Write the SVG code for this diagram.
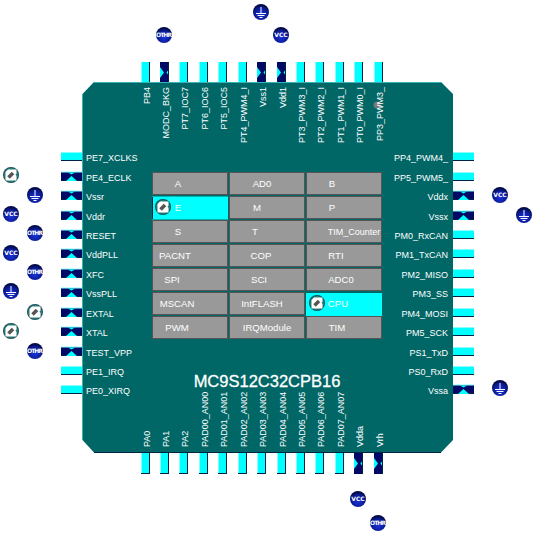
<svg xmlns="http://www.w3.org/2000/svg" xmlns:xlink="http://www.w3.org/1999/xlink" width="535" height="535" viewBox="0 0 535 535">
<style>
text{font-family:"Liberation Sans",Arial,sans-serif;fill:#fff;font-size:9px}
.e{text-anchor:end}.m{text-anchor:middle;font-size:9.600px}
.ic{font-family:"DejaVu Sans",sans-serif;font-size:6px;font-weight:bold;text-anchor:middle}
.b{fill:#999;stroke:#555;stroke-width:1}
</style>
<defs>
<radialGradient id="nv" cx="0.5" cy="0.65" r="0.6"><stop offset="0" stop-color="#1a33dd"/><stop offset="0.7" stop-color="#0a1a90"/><stop offset="1" stop-color="#000840"/></radialGradient>
<radialGradient id="tl" cx="0.5" cy="0.5" r="0.55"><stop offset="0" stop-color="#223"/><stop offset="0.7" stop-color="#2a8a80"/><stop offset="1" stop-color="#0a1a30"/></radialGradient>
<g id="ph"><rect width="21" height="9" fill="#0ff"/><path d="M0 .5H21" stroke="#8ff"/><path d="M0 8.500H21" stroke="#024"/></g>
<g id="phx"><rect width="21" height="9" fill="#000a66"/><path d="M0 0H21" stroke="#8ff"/><path d="M5 9 10.500 4 16 9ZM7 .5H14L10.500 2.500Z" fill="#0ff"/><path d="M0 8.500H5M16 8.500H21" stroke="#024"/></g>
<g id="pv"><rect width="9" height="21" fill="#0ff"/><path d="M.5 0V21" stroke="#8ff"/><path d="M8.500 0V21" stroke="#024"/></g>
<g id="pvb"><rect width="9" height="21" fill="#0ff"/><path d="M.5 0V21" stroke="#8ff"/><path d="M8.500 0V21M0 20.500H9" stroke="#024"/></g>
<g id="pvx"><rect width="9" height="21" fill="#000a66"/><path d="M0 5 4 10.500 0 16ZM9 7V14L6.500 10.500Z" fill="#0ff"/><path d="M8.500 0V21" stroke="#024"/></g>
<circle id="sp" r="8" fill="url(#nv)"/>
<g id="gnd"><use xlink:href="#sp"/><path d="M0-5V1M-5 1.500H5M-3.500 3.500H3.500M-1.500 5.500H1.500" stroke="#fff" fill="none"/></g>
<g id="chip"><circle r="8" fill="url(#tl)"/><path d="M-5.500-3-3-5.500H5.500V-1.500L4.500-.5 5.500 1V5.500H-5.500Z" fill="#fff"/><path d="M-2.500 2.500 2-2" stroke="#555" stroke-width="3.500"/></g>
</defs>

<g id="connectors"></g>

<g id="pins-left">
<use xlink:href="#ph" x="61" y="152"/><use xlink:href="#phx" x="61" y="172"/><use xlink:href="#phx" x="61" y="191"/><use xlink:href="#phx" x="61" y="211"/><use xlink:href="#phx" x="61" y="230"/><use xlink:href="#phx" x="61" y="249"/><use xlink:href="#phx" x="61" y="269"/><use xlink:href="#phx" x="61" y="288"/><use xlink:href="#phx" x="61" y="308"/><use xlink:href="#phx" x="61" y="327"/><use xlink:href="#phx" x="61" y="347"/><use xlink:href="#ph" x="61" y="366"/><use xlink:href="#ph" x="61" y="385"/>
</g>
<g id="pins-right">
<use xlink:href="#ph" x="453" y="152"/><use xlink:href="#ph" x="453" y="172"/><use xlink:href="#phx" x="453" y="191"/><use xlink:href="#phx" x="453" y="211"/><use xlink:href="#ph" x="453" y="230"/><use xlink:href="#ph" x="453" y="249"/><use xlink:href="#ph" x="453" y="269"/><use xlink:href="#ph" x="453" y="288"/><use xlink:href="#ph" x="453" y="308"/><use xlink:href="#ph" x="453" y="327"/><use xlink:href="#ph" x="453" y="347"/><use xlink:href="#ph" x="453" y="366"/><use xlink:href="#phx" x="453" y="385"/>
</g>
<g id="pins-top">
<use xlink:href="#pv" x="141" y="62"/><use xlink:href="#pvx" x="160" y="62"/><use xlink:href="#pv" x="179" y="62"/><use xlink:href="#pv" x="199" y="62"/><use xlink:href="#pv" x="218" y="62"/><use xlink:href="#pv" x="238" y="62"/><use xlink:href="#pvx" x="257" y="62"/><use xlink:href="#pvx" x="277" y="62"/><use xlink:href="#pv" x="296" y="62"/><use xlink:href="#pv" x="315" y="62"/><use xlink:href="#pv" x="335" y="62"/><use xlink:href="#pv" x="354" y="62"/><use xlink:href="#pv" x="374" y="62"/>
</g>
<g id="pins-bottom">
<use xlink:href="#pvb" x="141" y="453"/><use xlink:href="#pvb" x="160" y="453"/><use xlink:href="#pvb" x="179" y="453"/><use xlink:href="#pvb" x="199" y="453"/><use xlink:href="#pvb" x="218" y="453"/><use xlink:href="#pvb" x="238" y="453"/><use xlink:href="#pvb" x="257" y="453"/><use xlink:href="#pvb" x="277" y="453"/><use xlink:href="#pvb" x="296" y="453"/><use xlink:href="#pvb" x="315" y="453"/><use xlink:href="#pvb" x="335" y="453"/><use xlink:href="#pvx" x="354" y="453"/><use xlink:href="#pvx" x="374" y="453"/>
</g>

<g id="chip-body">
<path d="M94 82H441L453 94V440L441 452.500H94L82.500 440V94Z" fill="#006666"/>
<path d="M82.500 94V440M94 82.500H441" stroke="#33b3b3" fill="none"/>
<path d="M94 452.500H441" stroke="#024" fill="none"/>
<text x="267" y="387" text-anchor="middle" style="font-size:16.500px;stroke:#fff;stroke-width:.3">MC9S12C32CPB16</text>
</g>

<circle id="mark" cx="377" cy="105" r="3.500" fill="#777"/>

<g id="labels-left">
<text x="86" y="161">PE7_XCLKS</text><text x="86" y="181">PE4_ECLK</text><text x="86" y="200">Vssr</text><text x="86" y="220">Vddr</text><text x="86" y="239">RESET</text><text x="86" y="258">VddPLL</text><text x="86" y="278">XFC</text><text x="86" y="297">VssPLL</text><text x="86" y="317">EXTAL</text><text x="86" y="336">XTAL</text><text x="86" y="356">TEST_VPP</text><text x="86" y="375">PE1_IRQ</text><text x="86" y="394">PE0_XIRQ</text>
</g>
<g id="labels-right">
<text x="448" y="161" class="e">PP4_PWM4_</text><text x="448" y="181" class="e">PP5_PWM5_</text><text x="448" y="200" class="e">Vddx</text><text x="448" y="220" class="e">Vssx</text><text x="448" y="239" class="e">PM0_RxCAN</text><text x="448" y="258" class="e">PM1_TxCAN</text><text x="448" y="278" class="e">PM2_MISO</text><text x="448" y="297" class="e">PM3_SS</text><text x="448" y="317" class="e">PM4_MOSI</text><text x="448" y="336" class="e">PM5_SCK</text><text x="448" y="356" class="e">PS1_TxD</text><text x="448" y="375" class="e">PS0_RxD</text><text x="448" y="394" class="e">Vssa</text>
</g>
<g id="labels-top">
<text class="e" transform="translate(150 87) rotate(-90)">PB4</text><text class="e" transform="translate(169 87) rotate(-90)">MODC_BKG</text><text class="e" transform="translate(188 87) rotate(-90)">PT7_IOC7</text><text class="e" transform="translate(208 87) rotate(-90)">PT6_IOC6</text><text class="e" transform="translate(227 87) rotate(-90)">PT5_IOC5</text><text class="e" transform="translate(247 87) rotate(-90)">PT4_PWM4_I</text><text class="e" transform="translate(266 87) rotate(-90)">Vss1</text><text class="e" transform="translate(286 87) rotate(-90)">Vdd1</text><text class="e" transform="translate(305 87) rotate(-90)">PT3_PWM3_I</text><text class="e" transform="translate(324 87) rotate(-90)">PT2_PWM2_I</text><text class="e" transform="translate(344 87) rotate(-90)">PT1_PWM1_I</text><text class="e" transform="translate(363 87) rotate(-90)">PT0_PWM0_I</text><text class="e" transform="translate(383 87) rotate(-90)">PP3_PWM3_</text>
</g>
<g id="labels-bottom">
<text transform="translate(150 447) rotate(-90)">PA0</text><text transform="translate(169 447) rotate(-90)">PA1</text><text transform="translate(188 447) rotate(-90)">PA2</text><text transform="translate(208 447) rotate(-90)">PAD00_AN00</text><text transform="translate(227 447) rotate(-90)">PAD01_AN01</text><text transform="translate(247 447) rotate(-90)">PAD02_AN02</text><text transform="translate(266 447) rotate(-90)">PAD03_AN03</text><text transform="translate(286 447) rotate(-90)">PAD04_AN04</text><text transform="translate(305 447) rotate(-90)">PAD05_AN05</text><text transform="translate(324 447) rotate(-90)">PAD06_AN06</text><text transform="translate(344 447) rotate(-90)">PAD07_AN07</text><text transform="translate(363 447) rotate(-90)">Vdda</text><text transform="translate(383 447) rotate(-90)">Vrh</text>
</g>

<g id="modules">
<g id="m-A"><rect class="b" x="152.500" y="172.500" width="75" height="22"/><text x="178" y="187" class="m">A</text></g>
<g id="m-AD0"><rect class="b" x="229.500" y="172.500" width="75" height="22"/><text x="262" y="187" class="m">AD0</text></g>
<g id="m-B"><rect class="b" x="306.500" y="172.500" width="75" height="22"/><text x="332" y="187" class="m">B</text></g>
<g id="m-E"><rect x="152" y="196.500" width="76" height="23" fill="#0ff"/><path d="M152.500 197V219" stroke="#024"/><text x="178" y="211" class="m">E</text></g>
<g id="m-M"><rect class="b" x="229.500" y="196.500" width="75" height="22"/><text x="257" y="211" class="m">M</text></g>
<g id="m-P"><rect class="b" x="306.500" y="196.500" width="75" height="22"/><text x="332" y="211" class="m">P</text></g>
<g id="m-S"><rect class="b" x="152.500" y="220.500" width="75" height="22"/><text x="178" y="235" class="m">S</text></g>
<g id="m-T"><rect class="b" x="229.500" y="220.500" width="75" height="22"/><text x="255" y="235" class="m">T</text></g>
<g id="m-TIMC"><rect class="b" x="306.500" y="220.500" width="75" height="22"/><text x="354" y="235" class="m" style="font-size:9px">TIM_Counter</text></g>
<g id="m-PACNT"><rect class="b" x="152.500" y="244.500" width="75" height="22"/><text x="175" y="259" class="m">PACNT</text></g>
<g id="m-COP"><rect class="b" x="229.500" y="244.500" width="75" height="22"/><text x="261" y="259" class="m">COP</text></g>
<g id="m-RTI"><rect class="b" x="306.500" y="244.500" width="75" height="22"/><text x="336" y="259" class="m">RTI</text></g>
<g id="m-SPI"><rect class="b" x="152.500" y="268.500" width="75" height="22"/><text x="172" y="283" class="m">SPI</text></g>
<g id="m-SCI"><rect class="b" x="229.500" y="268.500" width="75" height="22"/><text x="259" y="283" class="m">SCI</text></g>
<g id="m-ADC0"><rect class="b" x="306.500" y="268.500" width="75" height="22"/><text x="341" y="283" class="m">ADC0</text></g>
<g id="m-MSCAN"><rect class="b" x="152.500" y="292.500" width="75" height="22"/><text x="177" y="307" class="m">MSCAN</text></g>
<g id="m-IntFLASH"><rect class="b" x="229.500" y="292.500" width="75" height="22"/><text x="262" y="307" class="m">IntFLASH</text></g>
<g id="m-CPU"><rect x="306" y="293" width="76" height="23" fill="#0ff"/><text x="338" y="307" class="m">CPU</text></g>
<g id="m-PWM"><rect class="b" x="152.500" y="316.500" width="75" height="22"/><text x="177" y="331" class="m">PWM</text></g>
<g id="m-IRQ"><rect class="b" x="229.500" y="316.500" width="75" height="22"/><text x="267" y="331" class="m">IRQModule</text></g>
<g id="m-TIM"><rect class="b" x="306.500" y="316.500" width="75" height="22"/><text x="337" y="331" class="m">TIM</text></g>
</g>

<g id="icons">
<use xlink:href="#chip" x="163" y="207"/><use xlink:href="#chip" x="317" y="303"/>
<use xlink:href="#chip" x="11" y="175"/><use xlink:href="#chip" x="35" y="312"/><use xlink:href="#chip" x="11" y="331"/>
<use xlink:href="#gnd" x="35" y="195"/><use xlink:href="#gnd" x="11" y="291"/><use xlink:href="#gnd" x="261" y="12"/><use xlink:href="#gnd" x="524" y="215"/><use xlink:href="#gnd" x="500" y="388"/>
<g id="vcc1"><use xlink:href="#sp" x="11" y="214"/><text class="ic" x="11" y="216">VCC</text></g>
<g id="vcc2"><use xlink:href="#sp" x="11" y="253"/><text class="ic" x="11" y="255">VCC</text></g>
<g id="vcc3"><use xlink:href="#sp" x="281" y="35"/><text class="ic" x="281" y="37">VCC</text></g>
<g id="vcc4"><use xlink:href="#sp" x="500" y="195"/><text class="ic" x="500" y="197">VCC</text></g>
<g id="vcc5"><use xlink:href="#sp" x="358" y="499"/><text class="ic" x="358" y="501">VCC</text></g>
<g id="oth1"><use xlink:href="#sp" x="35" y="233"/><text class="ic" x="35" y="235" textLength="16">OTHR</text></g>
<g id="oth2"><use xlink:href="#sp" x="35" y="272"/><text class="ic" x="35" y="274" textLength="16">OTHR</text></g>
<g id="oth3"><use xlink:href="#sp" x="35" y="351"/><text class="ic" x="35" y="353" textLength="16">OTHR</text></g>
<g id="oth4"><use xlink:href="#sp" x="164" y="35"/><text class="ic" x="164" y="37" textLength="16">OTHR</text></g>
<g id="oth5"><use xlink:href="#sp" x="378" y="523"/><text class="ic" x="378" y="525" textLength="16">OTHR</text></g>
</g>
</svg>
